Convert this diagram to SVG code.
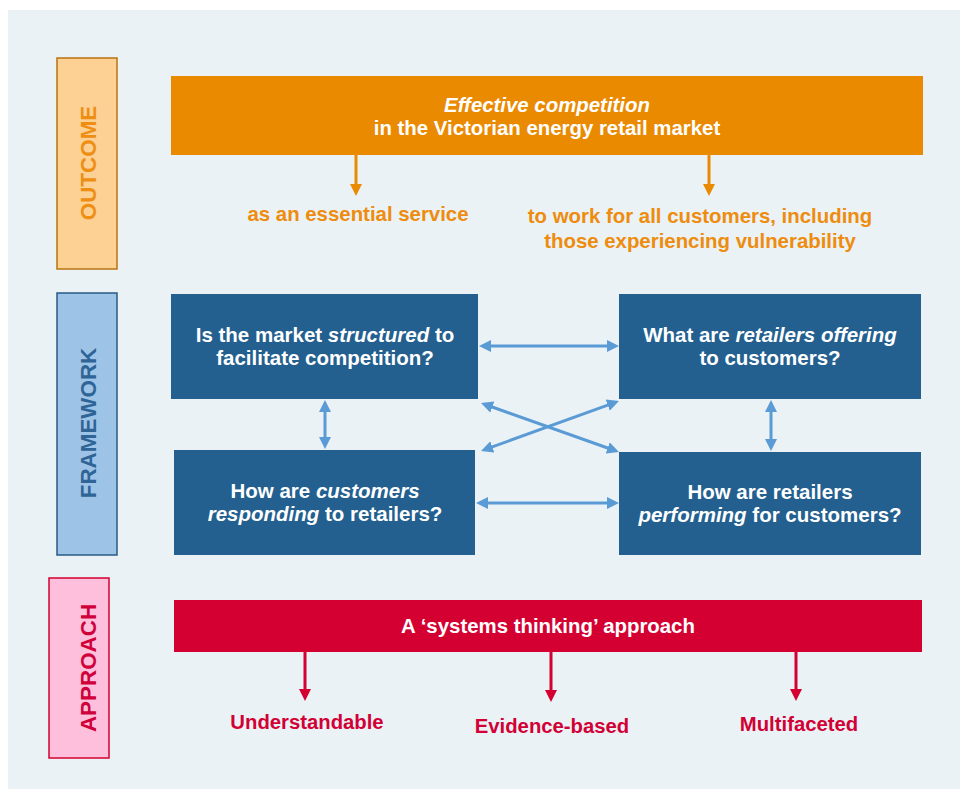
<svg xmlns="http://www.w3.org/2000/svg" width="960" height="789" viewBox="0 0 960 789">
<style>
text{font-family:"Liberation Sans",Arial,sans-serif;font-weight:bold;}
.side{font-size:22.4px;text-anchor:middle;}
.w{fill:#ffffff;font-size:20.4px;text-anchor:middle;}
.q{fill:#ffffff;font-size:20.5px;text-anchor:middle;}
.o{fill:#EE8C0E;font-size:20.4px;text-anchor:middle;}
.r{fill:#D20035;font-size:20.3px;text-anchor:middle;}
.blue{fill:#23608F;}
.bl{stroke:#5B9BD5;stroke-width:3;fill:none;marker-start:url(#hb);marker-end:url(#hb);}
.ol{stroke:#EA8A00;stroke-width:3;fill:none;marker-end:url(#ho);}
.rl{stroke:#D30031;stroke-width:3;fill:none;marker-end:url(#hr);}
</style>
<defs>
<marker id="hb" markerUnits="userSpaceOnUse" markerWidth="12" markerHeight="12" refX="3" refY="6" orient="auto-start-reverse"><path d="M0,0 L12,6 L0,12 z" fill="#5B9BD5"/></marker>
<marker id="ho" markerUnits="userSpaceOnUse" markerWidth="12" markerHeight="12" refX="3" refY="6" orient="auto"><path d="M0,0 L12,6 L0,12 z" fill="#EA8A00"/></marker>
<marker id="hr" markerUnits="userSpaceOnUse" markerWidth="12" markerHeight="12" refX="3" refY="6" orient="auto"><path d="M0,0 L12,6 L0,12 z" fill="#D30031"/></marker>
</defs>
<rect x="8" y="10" width="952" height="779" fill="#EAF2F6"/>

<g id="outcome-label">
<rect x="57" y="58" width="60" height="211" fill="#FDD093" stroke="#B8730F" stroke-width="1.5"/>
<text class="side" fill="#EE8E13" transform="translate(88,163) rotate(-90)" y="8">OUTCOME</text>
</g>
<g id="framework-label">
<rect x="57" y="293" width="60" height="262" fill="#9DC3E6" stroke="#2A5A85" stroke-width="1.5"/>
<text class="side" fill="#2E6496" transform="translate(88,423) rotate(-90)" y="8">FRAMEWORK</text>
</g>
<g id="approach-label">
<rect x="49" y="578" width="60" height="180" fill="#FDBFDC" stroke="#D4002F" stroke-width="1.5"/>
<text class="side" fill="#D0003A" transform="translate(88,668) rotate(-90)" y="8">APPROACH</text>
</g>

<g id="outcome">
<rect x="171" y="76" width="752" height="79" fill="#EA8A00"/>
<text class="w" x="547" y="112"><tspan font-style="italic">Effective competition</tspan></text>
<text class="w" x="547" y="135">in the Victorian energy retail market</text>
</g>
<g id="essential">
<text class="o" x="358" y="221">as an essential service</text>
</g>
<g id="all-customers">
<text class="o" x="700" y="223">to work for all customers, including</text>
<text class="o" x="700" y="248">those experiencing vulnerability</text>
</g>

<g id="structured">
<rect class="blue" x="171" y="294" width="307" height="105"/>
<text class="q" x="325" y="342">Is the market <tspan font-style="italic">structured</tspan> to</text>
<text class="q" x="325" y="365">facilitate competition?</text>
</g>
<g id="offering">
<rect class="blue" x="619" y="294" width="302" height="105"/>
<text class="q" x="770" y="342">What are <tspan font-style="italic">retailers offering</tspan></text>
<text class="q" x="770" y="365">to customers?</text>
</g>
<g id="responding">
<rect class="blue" x="174" y="450" width="301" height="105"/>
<text class="q" x="325" y="498">How are <tspan font-style="italic">customers</tspan></text>
<text class="q" x="325" y="521"><tspan font-style="italic">responding</tspan> to retailers?</text>
</g>
<g id="performing">
<rect class="blue" x="619" y="452" width="302" height="103"/>
<text class="q" x="770" y="499">How are retailers</text>
<text class="q" x="770" y="522"><tspan font-style="italic">performing</tspan> for customers?</text>
</g>

<g id="approach">
<rect x="174" y="600" width="748" height="52" fill="#D30031"/>
<text class="w" x="548" y="633">A ‘systems thinking’ approach</text>
</g>
<g id="understandable"><text class="r" x="307" y="729">Understandable</text></g>
<g id="evidence"><text class="r" x="552" y="733">Evidence-based</text></g>
<g id="multifaceted"><text class="r" x="799" y="731">Multifaceted</text></g>

<g id="connectors">
<line class="ol" x1="356" y1="155" x2="356" y2="187"/>
<line class="ol" x1="709" y1="155" x2="709" y2="187"/>
<line class="bl" x1="488" y1="346" x2="610" y2="346"/>
<line class="bl" x1="485" y1="503" x2="610" y2="503"/>
<line class="bl" x1="325" y1="409" x2="325" y2="440"/>
<line class="bl" x1="771" y1="409" x2="771" y2="442"/>
<line class="bl" x1="489.5" y1="406" x2="610.5" y2="449"/>
<line class="bl" x1="489.5" y1="447.9" x2="610.5" y2="404.1"/>
<line class="rl" x1="305" y1="652" x2="305" y2="692"/>
<line class="rl" x1="551" y1="652" x2="551" y2="693"/>
<line class="rl" x1="796" y1="652" x2="796" y2="692"/>
</g>
</svg>
